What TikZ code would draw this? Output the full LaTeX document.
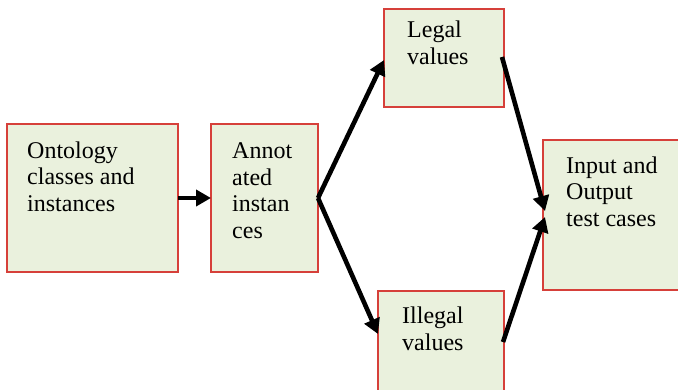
\documentclass[tikz,border=0pt]{standalone}
\usepackage{fontspec}
\setmainfont{Liberation Serif}
\usetikzlibrary{arrows.meta}
\definecolor{boxfill}{HTML}{EAF1DD}
\definecolor{boxline}{HTML}{D6403A}
\begin{document}
\begin{tikzpicture}[x=1pt,y=-1pt,
  box/.style={draw=boxline,fill=boxfill,line width=2.2pt},
  label/.style={anchor=base west,inner sep=0pt,align=left,
    font=\fontsize{24}{26.5}\selectfont},
  flow/.style={line width=4.6pt,-{Triangle[length=15pt,width=16pt]}}]
\useasboundingbox (0,0) rectangle (678,389);
% boxes
\draw[box] (7,124) rectangle (178,272) coordinate[pos=0.5] (ont);
\draw[box] (211,124) rectangle (318,272) coordinate[pos=0.5] (ann);
\draw[box] (384,9) rectangle (504,107) coordinate[pos=0.5] (leg);
\draw[box] (378,291) rectangle (504,400) coordinate[pos=0.5] (ill);
\draw[box] (543,140) rectangle (690,290) coordinate[pos=0.5] (io);
% texts (anchored at the baseline of the last line)
\node[label] (tont) at (27,211) {Ontology\\classes and\\instances};
\node[label] (tann) at (232,238) {Annot\\ated\\instan\\ces};
\node[label] (tleg) at (407,64) {Legal\\values};
\node[label] (till) at (402,350) {Illegal\\values};
\node[label] (tio) at (566,226) {Input and\\Output\\test cases};
% connectors
\coordinate (ontE) at (178,198);
\coordinate (annW) at (211,198);
\coordinate (annE) at (318,198);
\coordinate (legW) at (384,60);
\coordinate (legE) at (502,57);
\coordinate (illW) at (378,334);
\coordinate (illE) at (503,342);
\coordinate (ioA) at (545,211);
\coordinate (ioB) at (545,217);
\draw[flow] (ontE) -- (annW);
\draw[flow] (annE) -- (legW);
\draw[flow] (annE) -- (illW);
\draw[flow] (legE) -- (ioA);
\draw[flow] (illE) -- (ioB);
\end{tikzpicture}
\end{document}
